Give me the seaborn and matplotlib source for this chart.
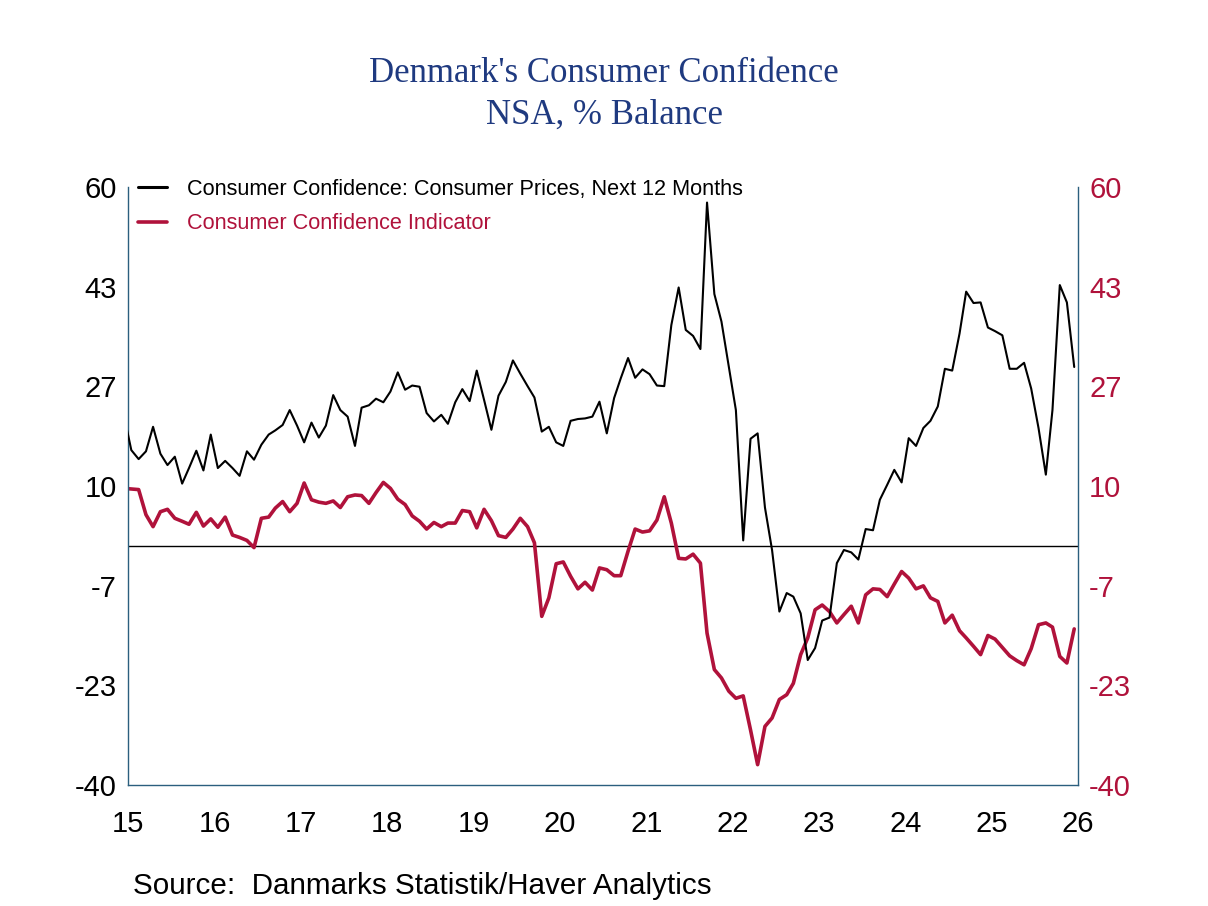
import numpy as np
import pandas as pd
import matplotlib
matplotlib.use('Agg')
import matplotlib.pyplot as plt
import matplotlib.dates as mdates
from matplotlib.ticker import FuncFormatter, NullFormatter
import seaborn as sns

# monthly, Jun 2015 .. Jun 2026 (first point sits just left of the axis)
months = pd.date_range('2015-06-01', '2026-06-01', freq='MS') + pd.Timedelta(days=14)

prices_next12 = [
    21.6,
    16.0, 14.5, 15.8, 19.9, 15.4, 13.5,
    14.9, 10.4, 13.0, 15.9, 12.6, 18.6, 13.0, 14.2, 13.0, 11.7, 15.8, 14.4,
    16.9, 18.6, 19.3, 20.2, 22.7, 20.1, 17.3, 20.6, 18.1, 20.1, 25.2, 22.7,
    21.6, 16.7, 23.1, 23.5, 24.6, 24.0, 25.8, 29.0, 26.1, 26.8, 26.6, 22.2,
    20.8, 21.9, 20.4, 24.0, 26.2, 24.2, 29.3, 24.4, 19.4, 25.1, 27.4, 31.0,
    28.8, 26.7, 24.8, 19.1, 19.9, 17.3, 16.7, 20.9, 21.2, 21.3, 21.6, 24.1,
    18.8, 24.7, 28.0, 31.4, 28.1, 29.5, 28.7, 26.8, 26.7, 36.9, 43.2, 36.1,
    35.1, 32.9, 57.4, 42.1, 37.5, 30.0, 22.7, 0.9, 17.9, 18.8, 6.4, -0.7,
    -11.0, -7.9, -8.5, -11.3, -19.1, -17.1, -12.5, -12.0, -2.9, -0.7, -1.1, -2.3,
    2.8, 2.6, 7.7, 10.2, 12.7, 10.6, 18.0, 16.7, 19.7, 20.9, 23.3, 29.6,
    29.3, 35.5, 42.5, 40.6, 40.7, 36.5, 35.9, 35.2, 29.6, 29.6, 30.6, 26.3,
    19.7, 11.9, 22.7, 43.6, 40.7, 29.9,
]

confidence = [
    9.6,
    9.5, 9.4, 5.2, 3.2, 5.7, 6.1,
    4.6, 4.1, 3.6, 5.6, 3.3, 4.5, 3.1, 4.8, 1.8, 1.4, 0.9, -0.3,
    4.6, 4.8, 6.3, 7.4, 5.7, 7.1, 10.5, 7.7, 7.3, 7.1, 7.5, 6.4,
    8.2, 8.5, 8.4, 7.1, 8.9, 10.6, 9.6, 7.8, 6.9, 5.0, 4.1, 2.8,
    3.9, 3.2, 3.8, 3.8, 5.9, 5.7, 3.0, 6.1, 4.2, 1.7, 1.4, 2.8,
    4.6, 3.2, 0.5, -11.8, -8.7, -3.0, -2.7, -5.1, -7.2, -6.1, -7.4, -3.7,
    -4.0, -5.0, -5.0, -0.9, 2.8, 2.3, 2.5, 4.3, 8.2, 3.8, -2.1, -2.2,
    -1.4, -2.9, -14.6, -20.7, -22.1, -24.3, -25.5, -25.1, -30.8, -36.6, -30.2, -28.8,
    -25.7, -24.9, -23.0, -18.2, -15.4, -10.7, -9.9, -11.0, -12.9, -11.5, -10.1, -12.9,
    -8.2, -7.2, -7.3, -8.5, -6.4, -4.3, -5.4, -7.2, -6.7, -8.7, -9.3, -12.9,
    -11.6, -14.2, -15.4, -16.8, -18.2, -15.0, -15.6, -17.0, -18.4, -19.2, -19.9, -17.2,
    -13.2, -12.9, -13.6, -18.5, -19.6, -13.9,
]

series_names = ['Consumer Confidence: Consumer Prices, Next 12 Months',
                'Consumer Confidence Indicator']
y_ticks = np.linspace(-40, 60, 7)

RED = '#b0123b'
NAVY = '#1f3a80'
SPINE = '#2b5f7e'

sns.set_style('white')
plt.rcParams['font.family'] = ['Liberation Sans', 'DejaVu Sans']
plt.rcParams['text.color'] = 'black'
plt.rcParams['xtick.color'] = 'black'
plt.rcParams['ytick.color'] = 'black'

df = pd.DataFrame({'date': months, 'prices': prices_next12, 'cci': confidence})

fig = plt.figure(figsize=(12.08, 9.06), dpi=100)
ax = fig.add_axes([128 / 1208, 1 - 785 / 906, 950 / 1208, 598 / 906])

ax.axhline(0, color='black', lw=1, zorder=1)
sns.lineplot(data=df, x='date', y='prices', ax=ax, color='black', lw=1.5,
             label=series_names[0], zorder=3)
sns.lineplot(data=df, x='date', y='cci', ax=ax, color=RED, lw=2.6,
             label=series_names[1], zorder=2)

ax.set_xlim(pd.Timestamp('2015-07-01'), pd.Timestamp('2026-07-01'))
ax.set_ylim(-40, 60)
ax.set_xlabel('')
ax.set_ylabel('')
ax.set_yticks(y_ticks)
ax.set_yticklabels([f'{v:.0f}' for v in y_ticks])
ax.tick_params(axis='y', length=0, pad=8, labelsize=21, labelcolor='black')

# long ticks at year starts, short at quarters, year label at mid-year
ax.xaxis.set_major_locator(mdates.YearLocator())
ax.xaxis.set_major_formatter(NullFormatter())
ax.xaxis.set_minor_locator(mdates.MonthLocator(bymonth=[4, 7, 10]))


def mid_year_label(x, pos):
    d = mdates.num2date(x)
    return d.strftime('%y') if d.month == 7 else ''


ax.xaxis.set_minor_formatter(FuncFormatter(mid_year_label))
ax.tick_params(axis='x', which='major', length=12, width=1, color=SPINE)
ax.tick_params(axis='x', which='minor', length=5, width=1, color=SPINE,
               labelsize=21, pad=13, labelcolor='black')

ax2 = ax.twinx()
ax2.set_ylim(-40, 60)
ax2.set_yticks(y_ticks)
ax2.set_yticklabels([f'{v:.0f}' for v in y_ticks])
ax2.tick_params(axis='y', length=0, pad=8, labelsize=21, labelcolor=RED)

for s in ['top']:
    ax.spines[s].set_visible(False)
    ax2.spines[s].set_visible(False)
ax.spines['right'].set_visible(False)
ax2.spines['left'].set_visible(False)
ax2.spines['bottom'].set_visible(False)
for sp in [ax.spines['left'], ax.spines['bottom'], ax2.spines['right']]:
    sp.set_color(SPINE)
    sp.set_linewidth(1)

leg = ax.legend(loc='upper left', bbox_to_anchor=(0.0105, 1.0135), frameon=False,
                fontsize=15.6, handlelength=1.34, handletextpad=0.92,
                labelspacing=0.62, borderaxespad=0, borderpad=0)
leg.get_texts()[0].set_color('black')
leg.get_texts()[1].set_color(RED)
leg.get_lines()[0].set_linewidth(2.2)

fig.text(0.5, 1 - 73 / 906, "Denmark's Consumer Confidence", ha='center', va='center',
         fontsize=25, family='Liberation Serif', color=NAVY)
fig.text(0.5, 1 - 115 / 906, 'NSA, % Balance', ha='center', va='center',
         fontsize=25, family='Liberation Serif', color=NAVY)
fig.text(133 / 1208, 1 - 886 / 906, 'Source:  Danmarks Statistik/Haver Analytics',
         ha='left', va='center', fontsize=21.3, family='Liberation Sans', color='black')

fig.savefig('out.png', dpi=100)
